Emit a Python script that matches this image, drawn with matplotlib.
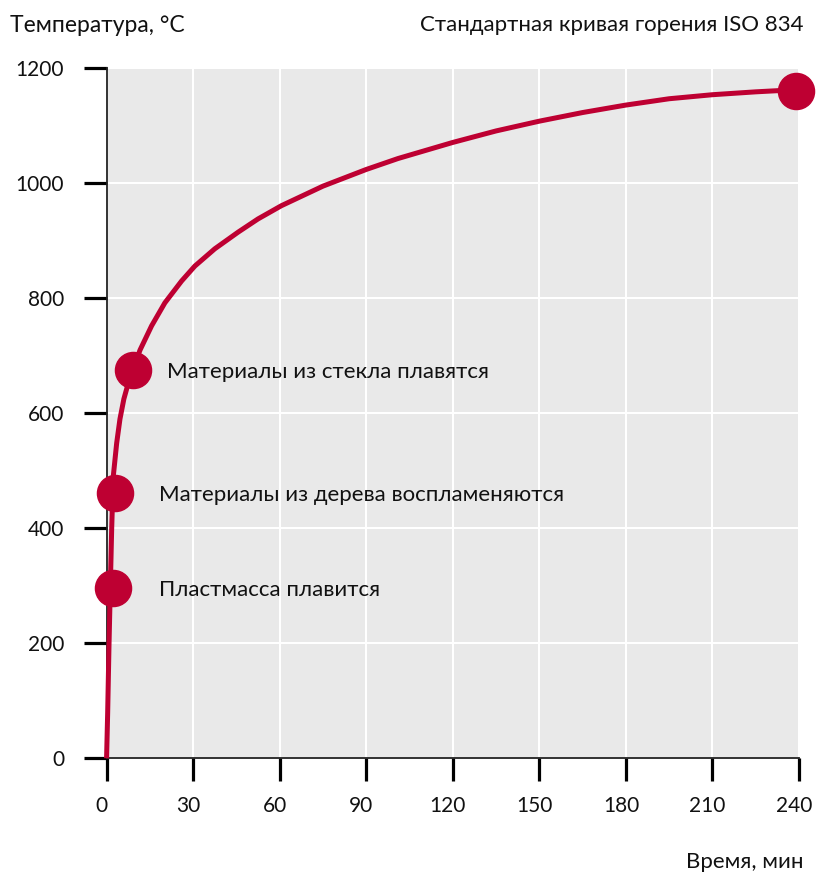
import matplotlib.pyplot as plt
import matplotlib.transforms as mtransforms

# curve: time (min) -> temperature (°C)
minutes = [0, 0.38, 0.83, 1.3, 1.76, 2.32, 3.5, 4.64, 6, 7.5, 9.2, 11.6,
           15.6, 20.2, 26, 30.6, 37.5, 45.6, 52.5, 60.6, 75, 90, 101, 120,
           135, 150, 165, 180, 195, 210, 225, 240]
temps = [0, 79, 194, 298, 397, 490, 548, 590, 625, 652, 677, 710,
         752, 792, 830, 856, 886, 915, 938, 961, 995, 1024, 1043, 1071,
         1091, 1108, 1123, 1136, 1147, 1154, 1159, 1163]

# highlighted points
mark_minutes = [2.1, 2.9, 9.0, 239]
mark_temps = [297, 461, 676, 1160]
mark_labels = ["Пластмасса плавится", "Материалы из дерева воспламеняются",
               "Материалы из стекла плавятся", ""]

x_ticks = [0, 30, 60, 90, 120, 150, 180, 210, 240]
y_ticks = [0, 200, 400, 600, 800, 1000, 1200]

RED = "#BE0032"
INK = "#111111"

plt.rcParams['font.family'] = ['Lato', 'DejaVu Sans']

fig = plt.figure(figsize=(8.16, 8.74), dpi=100)
ax = fig.add_axes([0.1306, 0.1324, 0.9792 - 0.1306, 0.9219 - 0.1324])

ax.set_facecolor("#E9E9E9")
ax.set_xlim(0, 240)
ax.set_ylim(0, 1200)
ax.set_xticks(x_ticks)
ax.set_yticks(y_ticks)
ax.grid(True, color="white", linewidth=1.5)
ax.set_axisbelow(True)

for side in ["top", "right"]:
    ax.spines[side].set_visible(False)
for side in ["left", "bottom"]:
    ax.spines[side].set_color("#222222")
    ax.spines[side].set_linewidth(1.3)

ax.tick_params(axis="both", length=16.5, width=2.3, color="black",
               labelsize=15, pad=11, labelcolor=INK)
ax.tick_params(axis="y", pad=14)
# the x labels sit a little left of their ticks
shift = mtransforms.ScaledTranslation(-5 / 100, 0, fig.dpi_scale_trans)
for lbl in ax.get_xticklabels():
    lbl.set_transform(lbl.get_transform() + shift)

ax.plot(minutes, temps, color=RED, linewidth=3.6, solid_capstyle="butt",
        solid_joinstyle="round", clip_on=False, zorder=3)
ax.plot(mark_minutes, mark_temps, "o", color=RED, markersize=26,
        clip_on=False, zorder=4)

offsets = [33.5, 32, 24.5, 0]
for t, T, lab, off in zip(mark_minutes, mark_temps, mark_labels, offsets):
    if lab:
        ax.annotate(lab, (t, T), xytext=(off, -1.5), textcoords="offset points",
                    va="center", ha="left", fontsize=16, color=INK)

fig.text(10 / 816, 1 - 25 / 874, "Температура, °C", ha="left", va="center",
         fontsize=16.5, color=INK)
fig.text(803 / 816, 1 - 25 / 874, "Стандартная кривая горения ISO 834",
         ha="right", va="center", fontsize=16, color=INK)
fig.text(803 / 816, 1 - 862 / 874, "Время, мин", ha="right", va="center",
         fontsize=16, color=INK)

fig.savefig("out.png", dpi=100)
